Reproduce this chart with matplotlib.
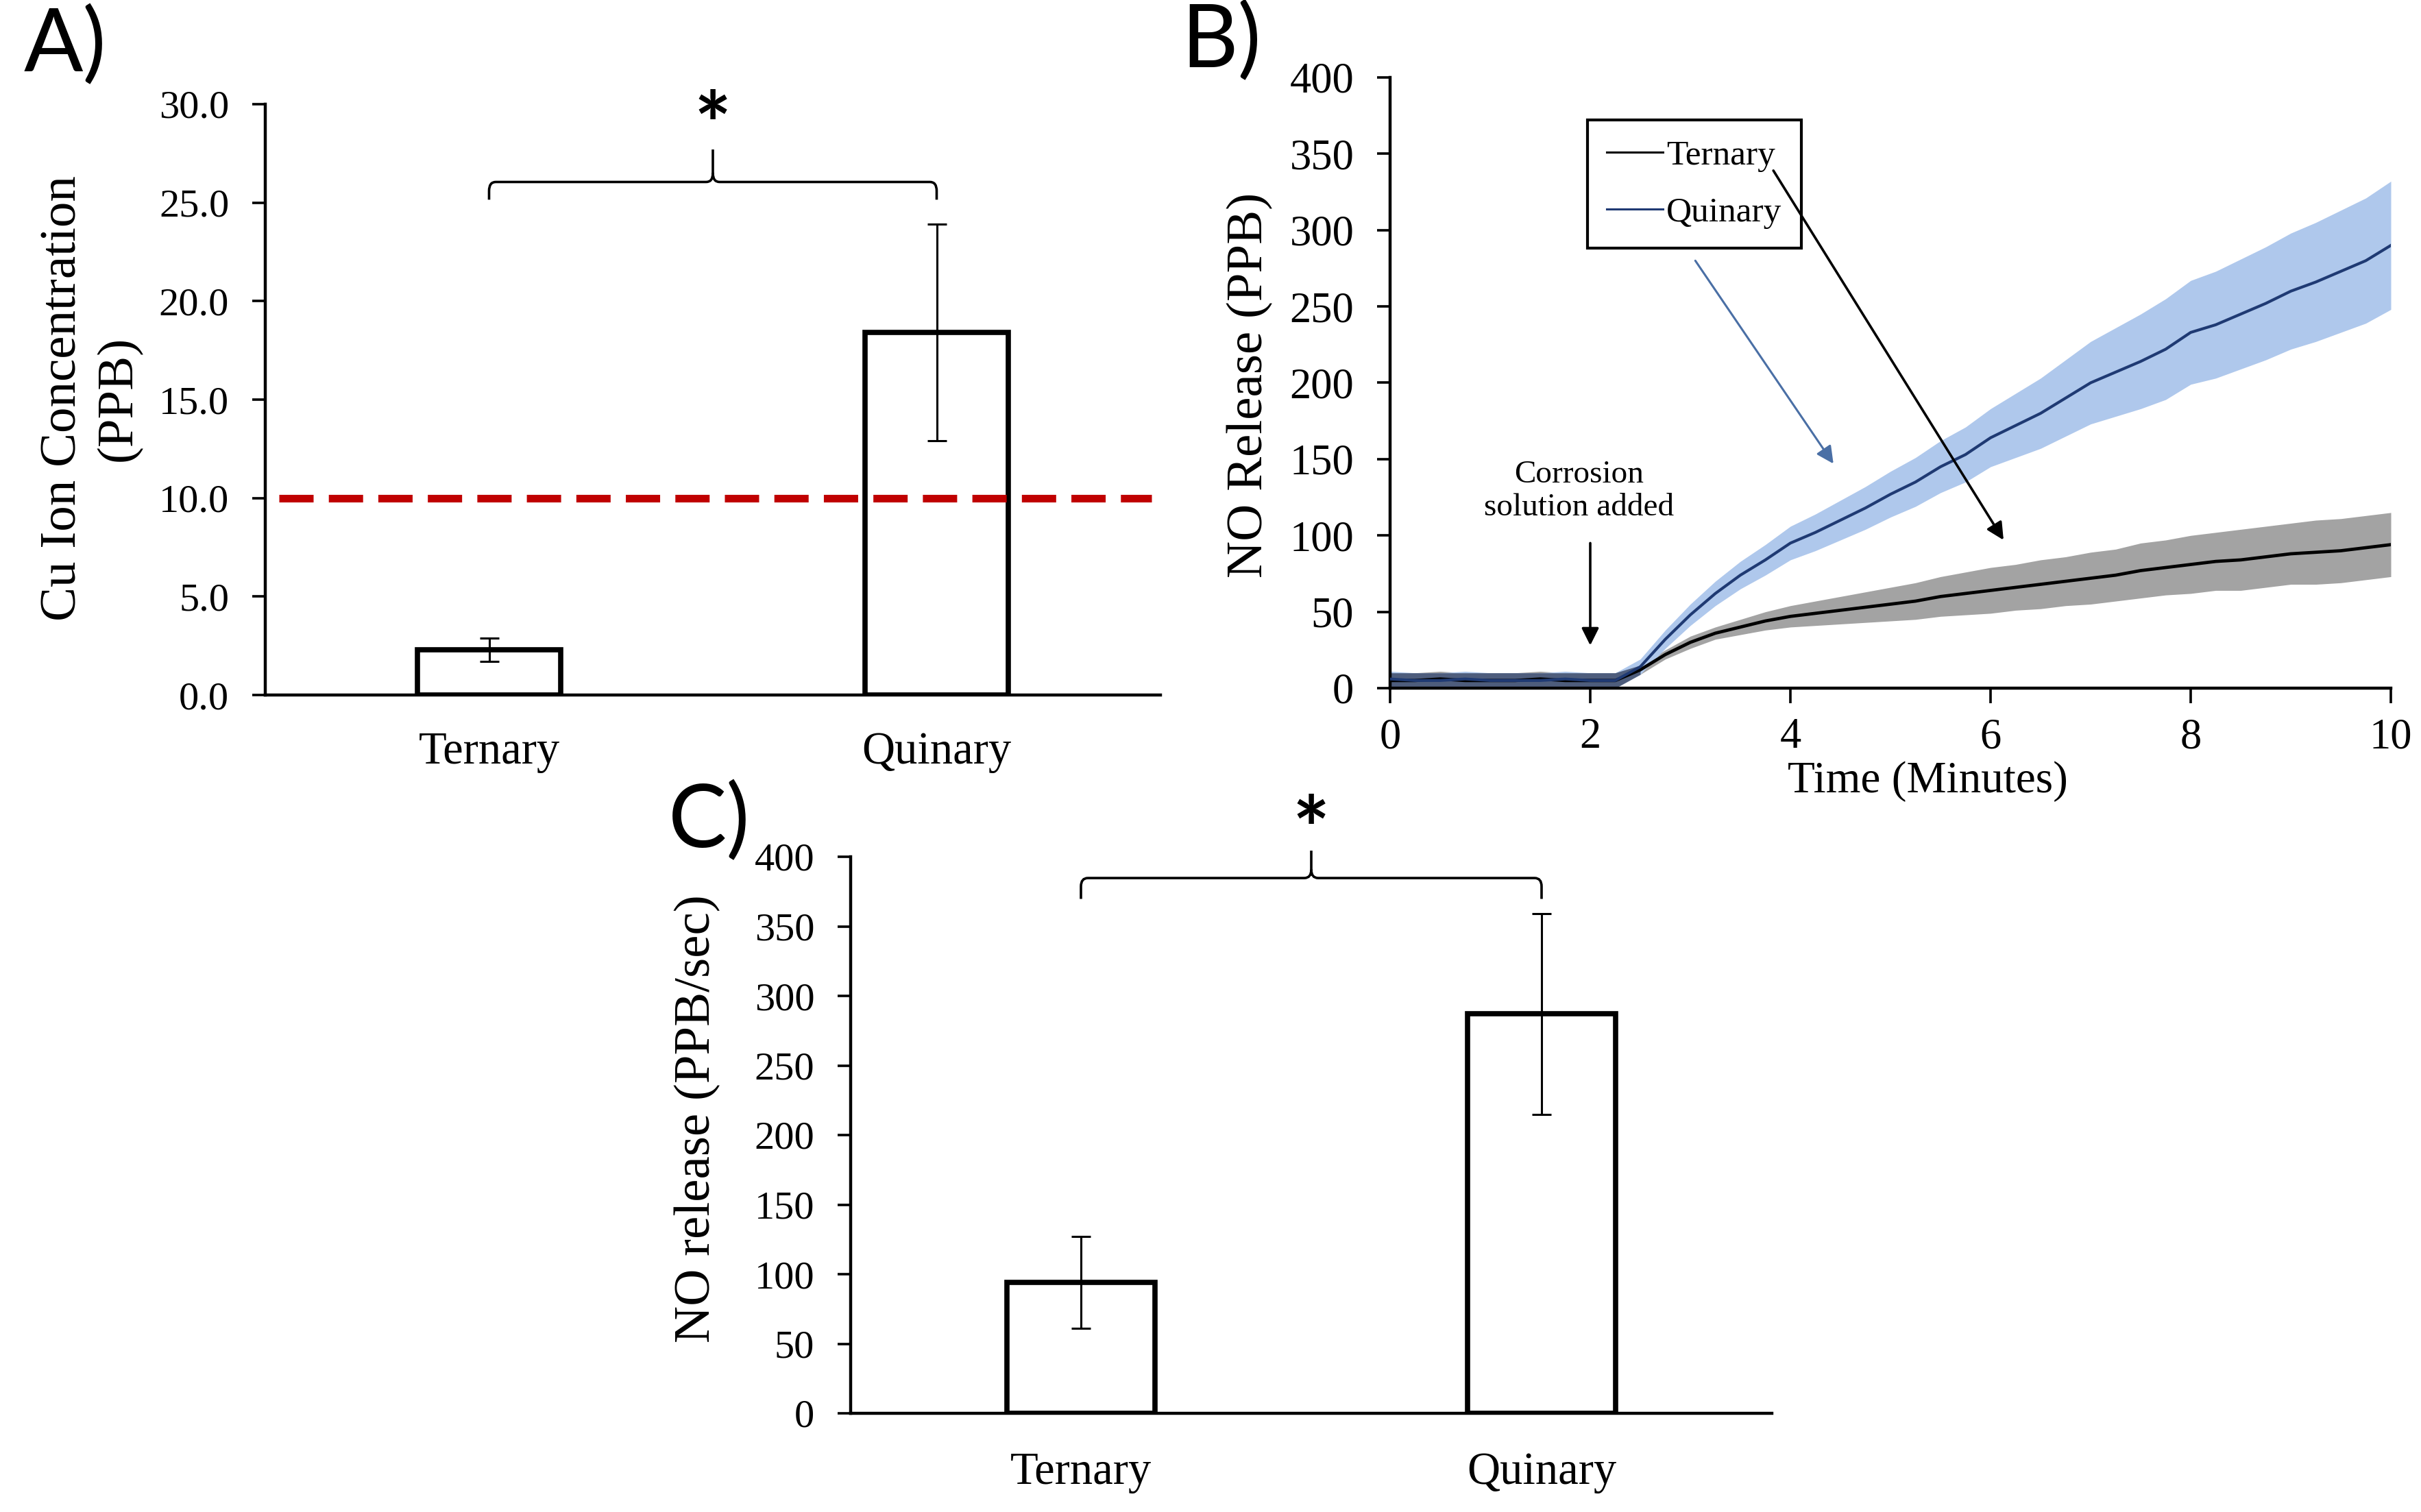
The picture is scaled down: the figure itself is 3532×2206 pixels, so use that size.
"""
Three-panel figure: Cu ion release, NO release over time, NO release rate
"""
import matplotlib
matplotlib.use('Agg')
import matplotlib.pyplot as plt
from matplotlib.path import Path
from matplotlib.patches import PathPatch
from matplotlib.lines import Line2D
import numpy as np

plt.rcParams['font.family'] = ['Liberation Serif', 'DejaVu Serif']

W, H, DPI = 3532, 2206, 100

# ---- data ----
groups = ['Ternary', 'Quinary']

# A) Cu ion concentration (PPB)
cu_ppb = [2.3, 18.4]
cu_err = [0.6, 5.5]
cu_limit = 10.0

# C) NO release rate (PPB/sec)
no_rate = [94, 287]
no_rate_err = [33, 72]

# B) NO release over time (PPB), mean and SD band
time_min = [0, 0.25, 0.5, 0.75, 1, 1.25, 1.5, 1.75, 2, 2.25,
            2.5, 2.75, 3, 3.25, 3.5, 3.75, 4, 4.25, 4.5, 4.75,
            5, 5.25, 5.5, 5.75, 6, 6.25, 6.5, 6.75, 7, 7.25,
            7.5, 7.75, 8, 8.25, 8.5, 8.75, 9, 9.25, 9.5, 9.75, 10]
tern_mean = [5, 5, 6, 5, 5, 5, 6, 5, 5, 5,
             12, 22, 30, 36, 40, 44, 47, 49, 51, 53,
             55, 57, 60, 62, 64, 66, 68, 70, 72, 74,
             77, 79, 81, 83, 84, 86, 88, 89, 90, 92, 94]
tern_sd = [5, 5, 5, 5, 5, 5, 5, 5, 5, 5,
           3, 3, 4, 4, 5, 6, 7, 8, 9, 10,
           11, 12, 13, 14, 15, 15, 16, 16, 17, 17,
           18, 18, 19, 19, 20, 20, 20, 21, 21, 21, 21]
quin_mean = [6, 5, 5, 6, 5, 5, 5, 6, 5, 5,
             14, 32, 48, 62, 74, 84, 95, 102, 110, 118,
             127, 135, 145, 153, 164, 172, 180, 190, 200, 207,
             214, 222, 233, 238, 245, 252, 260, 266, 273, 280, 290]
quin_sd = [5, 5, 5, 5, 5, 5, 5, 5, 5, 5,
           5, 6, 7, 8, 9, 10, 11, 12, 13, 14,
           15, 16, 17, 18, 19, 21, 23, 25, 27, 29,
           31, 33, 34, 35, 36, 37, 38, 39, 40, 41, 42]


def px_axes(fig, left, top, right, bottom):
    # axes box given in pixel coordinates of the final image
    return fig.add_axes([left / W, 1 - bottom / H, (right - left) / W, (bottom - top) / H])


def style_axes(ax):
    for s in ['top', 'right']:
        ax.spines[s].set_visible(False)
    for s in ['left', 'bottom']:
        ax.spines[s].set_linewidth(3.2)
        ax.spines[s].set_color('black')


def bracket(ax, x0, x1, y_end, y_bar, y_tip, rx, ry):
    xm = (x0 + x1) / 2
    verts = [(x0, y_end), (x0, y_bar - ry), (x0, y_bar), (x0 + rx, y_bar),
             (xm - rx, y_bar), (xm, y_bar), (xm, y_bar + ry), (xm, y_tip),
             (x1, y_end), (x1, y_bar - ry), (x1, y_bar), (x1 - rx, y_bar),
             (xm + rx, y_bar), (xm, y_bar), (xm, y_bar + ry)]
    codes = [Path.MOVETO, Path.LINETO, Path.CURVE3, Path.CURVE3,
             Path.LINETO, Path.CURVE3, Path.CURVE3, Path.LINETO,
             Path.MOVETO, Path.LINETO, Path.CURVE3, Path.CURVE3,
             Path.LINETO, Path.CURVE3, Path.CURVE3]
    ax.add_patch(PathPatch(Path(verts, codes), fill=False, lw=2.6,
                           edgecolor='black', clip_on=False))


def bar_panel(ax, values, errors, ymax, step, fmt, xpad):
    x = np.arange(len(groups))
    ax.bar(x, values, width=0.32, color='white', edgecolor='black', linewidth=5.5, zorder=2)
    ax.errorbar(x, values, yerr=errors, fmt='none', ecolor='black',
                elinewidth=2.2, capsize=10, capthick=2.2, zorder=3)
    ax.set_xlim(-0.5, 1.5)
    ax.set_ylim(0, ymax)
    ax.set_yticks(np.arange(0, ymax + step / 2, step))
    ax.yaxis.set_major_formatter(plt.FormatStrFormatter(fmt))
    ax.set_xticks(x)
    ax.set_xticklabels(groups)
    ax.tick_params(axis='y', direction='out', length=14, width=2.6, labelsize=42, pad=24)
    ax.tick_params(axis='x', length=0, labelsize=48, pad=xpad)
    style_axes(ax)


fig = plt.figure(figsize=(W / DPI, H / DPI), dpi=DPI)

# ---------------- A ----------------
axA = px_axes(fig, 387, 152, 1693, 1014)
bar_panel(axA, cu_ppb, cu_err, 30, 5, '%.1f', 38)
axA.axhline(cu_limit, xmin=0.015, xmax=0.99, color='#C00000', lw=8,
            dashes=(4.5, 2), zorder=4)
bracket(axA, 0, 1, 25.15, 26.05, 27.7, 0.015, 0.45)
axA.text(0.5, 27.35, '*', ha='center', va='baseline', fontsize=92,
         fontweight='bold', family='Lato')
fig.text(133 / W, 1 - 581 / H, 'Cu Ion Concentration\n(PPB)', rotation=90,
         ha='center', va='center', multialignment='center', fontsize=54, linespacing=1.25)

# ---------------- B ----------------
axB = px_axes(fig, 2028, 113, 3488, 1004)
t = np.array(time_min)
tm, ts = np.array(tern_mean), np.array(tern_sd)
qm, qs = np.array(quin_mean), np.array(quin_sd)
axB.fill_between(t, tm - ts, tm + ts, color='#A3A3A3', lw=0, zorder=1)
axB.fill_between(t, qm - qs, qm + qs, color='#AFC8EC', lw=0, zorder=1)
# where the two bands overlap the original shows a dark slate tone
lo = np.maximum(tm - ts, qm - qs)
hi = np.minimum(tm + ts, qm + qs)
axB.fill_between(t, lo, hi, where=hi > lo, color='#4E5D7C', lw=0, zorder=1.5)
axB.plot(t, tm, color='black', lw=3.4, zorder=3)
axB.plot(t, qm, color='#1F3A73', lw=3, zorder=3)
axB.set_xlim(0, 10)
axB.set_ylim(0, 400)
axB.set_xticks([0, 2, 4, 6, 8, 10])
axB.set_yticks(np.arange(0, 401, 50))
axB.tick_params(axis='y', direction='out', length=14, width=2.6, labelsize=45, pad=24)
axB.tick_params(axis='x', direction='out', length=16, width=2.6, labelsize=45, pad=15)
style_axes(axB)
fig.text(1823 / W, 1 - 562 / H, 'NO Release (PPB)', rotation=90,
         ha='center', va='center', fontsize=54)
fig.text(2812 / W, 1 - 1140 / H, 'Time (Minutes)', ha='center', va='center', fontsize=47)

handles = [Line2D([], [], color='black', lw=2.2), Line2D([], [], color='#1F3A73', lw=2.2)]
leg = axB.legend(handles, groups, loc='upper left', bbox_to_anchor=(0.197, 0.930),
                 fontsize=37, handlelength=1.6, handletextpad=0.1, borderpad=0.55,
                 labelspacing=0.7, frameon=True, fancybox=False, framealpha=1,
                 edgecolor='black', borderaxespad=0)
leg.get_frame().set_linewidth(3)

axB.annotate('', xy=(4.43, 147), xytext=(3.05, 280),
             arrowprops=dict(arrowstyle='-|>', color='#4A6FA5', lw=2.2,
                             mutation_scale=38, shrinkA=0, shrinkB=0))
axB.annotate('', xy=(6.13, 97), xytext=(3.83, 339),
             arrowprops=dict(arrowstyle='-|>', color='black', lw=2.6,
                             mutation_scale=38, shrinkA=0, shrinkB=0), zorder=6)
axB.annotate('', xy=(2.0, 28), xytext=(2.0, 95),
             arrowprops=dict(arrowstyle='-|>', color='black', lw=2.6,
                             mutation_scale=38, shrinkA=0, shrinkB=0))
axB.text(1.89, 129, 'Corrosion\nsolution added', ha='center', va='center',
         fontsize=34, linespacing=1.15)

# ---------------- C ----------------
axC = px_axes(fig, 1241, 1250, 2585, 2062)
bar_panel(axC, no_rate, no_rate_err, 400, 50, '%d', 40)
bracket(axC, 0, 1, 369.7, 384.7, 404.4, 0.015, 6)
axC.text(0.5, 397, '*', ha='center', va='baseline', fontsize=92,
         fontweight='bold', family='Lato')
fig.text(1017 / W, 1 - 1632 / H, 'NO release (PPB/sec)', rotation=90,
         ha='center', va='center', fontsize=54)

# panel letters
fig.text(35 / W, 1 - 8 / H, 'A)', ha='left', va='top', fontsize=92, family='Lato')
fig.text(1723 / W, 1 - 2 / H, 'B)', ha='left', va='top', fontsize=92, family='Lato')
fig.text(975 / W, 1 - 1140 / H, 'C)', ha='left', va='top', fontsize=92, family='Lato')

fig.savefig('out.png', dpi=DPI, facecolor='white')
print("saved out.png")
